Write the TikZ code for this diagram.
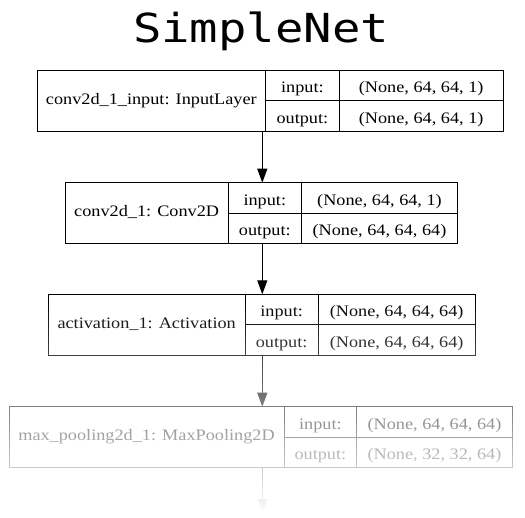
\documentclass[tikz,border=0pt]{standalone}
\usepackage{fontspec}
\newfontfamily\gvfont[FakeStretch=1.14]{Liberation Serif}
\newfontfamily\titlefont[FakeStretch=1.18]{DejaVu Sans Mono}
\usepackage{tikz}
\usetikzlibrary{arrows.meta,positioning,fadings}
\tikzfading[name=fadedown, top color=transparent!100, bottom color=transparent!0]
\tikzset{
  cell/.style={draw, line width=1pt, inner sep=0pt, outer sep=0pt, anchor=north west,
               font=\gvfont\fontsize{16}{18}\selectfont, text height=16pt, text depth=1.5pt},
  namecell/.style={cell, text height=10pt, text depth=3pt},
  flow/.style={-{Triangle[length=14pt,width=10pt]}, line width=1pt},
  titletext/.style={font=\titlefont\fontsize{40}{40}\selectfont, inner sep=0pt, anchor=base},
}

\begin{document}
\begin{tikzpicture}[x=1pt,y=-1pt]
  \useasboundingbox (0,0) rectangle (525,517);
  % Title
  \node[titletext] (title) at (261,42.5) {SimpleNet};
  % Layers (name / left / split1 / split2 / right / top / label / in / out)
  \foreach \n/\l/\a/\b/\r/\t/\txt/\vin/\vout in {
    inlayer/37/265.7/339/503.3/70/{conv2d\_1\_input: InputLayer}/{(None, 64, 64, 1)}/{(None, 64, 64, 1)},
    conv/65/228.3/301.3/457.7/182.7/{conv2d\_1: Conv2D}/{(None, 64, 64, 1)}/{(None, 64, 64, 64)},
    act/48.3/245/318.3/475/294.3/{activation\_1: Activation}/{(None, 64, 64, 64)}/{(None, 64, 64, 64)},
    pool/9/284/356.7/512.3/406.7/{max\_pooling2d\_1: MaxPooling2D}/{(None, 64, 64, 64)}/{(None, 32, 32, 64)}}{
    \node[namecell, minimum width={(\a-\l)*1pt}, minimum height=61pt] (\n) at (\l,\t) {\txt};
    \node[cell, minimum width={(\b-\a)*1pt}, minimum height=30.5pt] (\n-inkey) at (\a,\t) {input:};
    \node[cell, minimum width={(\r-\b)*1pt}, minimum height=30.5pt] (\n-inval) at (\b,\t) {\vin};
    \node[cell, minimum width={(\b-\a)*1pt}, minimum height=30.5pt] (\n-outkey) at (\n-inkey.south west) {output:};
    \node[cell, minimum width={(\r-\b)*1pt}, minimum height=30.5pt] (\n-outval) at (\n-inval.south west) {\vout};
  }
  % Arrows
  \coordinate (spine) at (262.3,0);
  \coordinate (tail) at (262.3,513);
  \draw[flow] (inlayer.south -| spine) -- (conv.north -| spine);
  \draw[flow] (conv.south -| spine) -- (act.north -| spine);
  \draw[flow] (act.south -| spine) -- (pool.north -| spine);
  \draw[flow] (pool.south -| spine) -- (tail);
  % Fade out towards the bottom
  \fill[white, path fading=fadedown] (0,300) rectangle (525,512);
  \fill[white] (0,512) rectangle (525,517);
\end{tikzpicture}
\end{document}
